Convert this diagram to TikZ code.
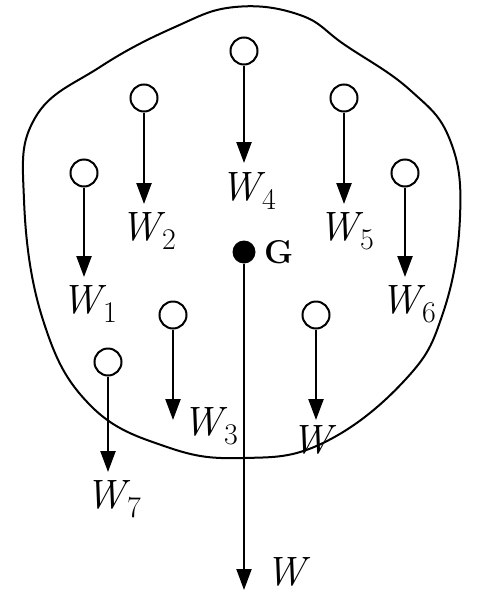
\documentclass[tikz,border=0pt]{standalone}
\usepackage{fontspec}
\usetikzlibrary{arrows.meta}
\newlength{\du}
\setlength{\du}{10\unitlength}
\newcommand{\wlab}[1]{\textit{W}\kern-3pt\raisebox{-9pt}{\fontsize{30}{30}\selectfont #1}}
\tikzset{
  ball/.style={circle,draw,fill=white,line width=0.2\du,minimum size=2.7\du,inner sep=0pt},
  force/.style={line width=0.24\du,-{Triangle[length=21pt,width=15pt]}},
  wlabel/.style={anchor=base west,inner sep=0pt,outer sep=0pt,font=\fontsize{41}{48}\selectfont},
}

\begin{document}
\begin{tikzpicture}
\pgftransformxscale{1.000000}
\pgftransformyscale{-1.000000}
\useasboundingbox (0\du,0\du) rectangle (49.6\du,60\du);
% body outline
\draw[line width=0.2\du] plot[smooth cycle,tension=0.7] coordinates {
  (23.5\du,0.7\du) (30.0\du,1.5\du) (34.5\du,4.5\du) (41.0\du,9.0\du)
  (45.0\du,14.0\du) (46.0\du,21.7\du) (44.3\du,31.3\du) (40.5\du,38.0\du)
  (32.3\du,44.3\du) (24.3\du,45.8\du) (16.7\du,44.7\du) (9.0\du,40.5\du)
  (4.3\du,32.0\du) (2.4\du,20.0\du) (3.5\du,11.8\du) (10.0\du,6.7\du)
  (17.5\du,2.7\du)};
% weights
\node[ball] (b1) at (8.4\du,17.3\du) {};
\node[ball] (b2) at (14.4\du,9.8\du) {};
\node[ball] (b3) at (17.3\du,31.5\du) {};
\node[ball] (b4) at (24.4\du,5.1\du) {};
\node[ball] (b5) at (34.4\du,9.8\du) {};
\node[ball] (b6) at (40.5\du,17.3\du) {};
\node[ball] (b7) at (10.8\du,36.2\du) {};
\node[ball] (bw) at (31.6\du,31.5\du) {};
\coordinate (t1) at (8.4\du,27.7\du);
\coordinate (t2) at (14.4\du,20.4\du);
\coordinate (t3) at (17.3\du,42.0\du);
\coordinate (t4) at (24.4\du,16.3\du);
\coordinate (t5) at (34.4\du,20.4\du);
\coordinate (t6) at (40.5\du,27.7\du);
\coordinate (t7) at (10.8\du,47.2\du);
\coordinate (tw) at (31.6\du,42.0\du);
\foreach \k in {1,2,3,4,5,6,7,w}
  \draw[force] (b\k) -- (t\k);
% centre of gravity
\node[circle,fill,inner sep=0pt,minimum size=2.3\du] (g) at (24.4\du,25.2\du) {};
\coordinate (tg) at (24.4\du,59.0\du);
\draw[force,line width=0.2\du] (g) -- (tg);
\node[anchor=base west,inner sep=0pt,font=\fontsize{33}{38}\selectfont\bfseries] (gl) at (26.4\du,26.3\du) {G};
% labels
\node[wlabel] (l1) at (6.1\du,31.3\du) {\wlab{1}};
\node[wlabel] (l2) at (12.0\du,24.0\du) {\wlab{2}};
\node[wlabel] (l3) at (18.2\du,43.5\du) {\wlab{3}};
\node[wlabel] (l4) at (22.0\du,20.0\du) {\wlab{4}};
\node[wlabel] (l5) at (31.8\du,24.0\du) {\wlab{5}};
\node[wlabel] (l6) at (38.0\du,31.3\du) {\wlab{6}};
\node[wlabel] (l7) at (8.5\du,50.8\du) {\wlab{7}};
\node[wlabel] (lw) at (29.1\du,45.3\du) {\textit{W}};
\node[wlabel] (lg) at (26.5\du,58.5\du) {\textit{W}};
\end{tikzpicture}
\end{document}
